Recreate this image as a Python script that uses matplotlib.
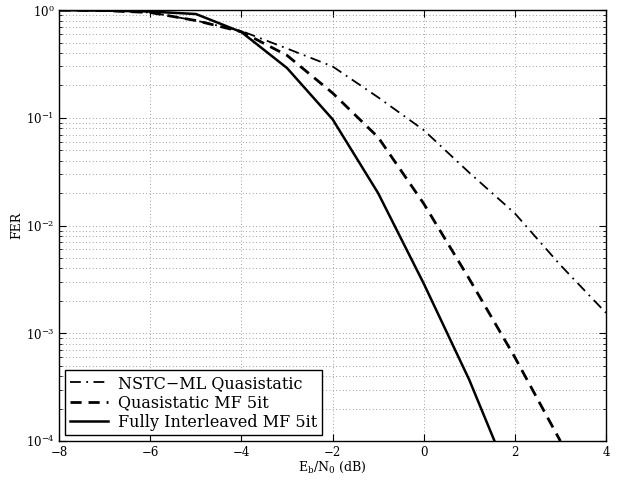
import numpy as np
from matplotlib import pyplot as plt
from matplotlib.ticker import LogLocator, NullFormatter

# Eb/N0 points (dB) and FER for each scheme
snr = [-8, -7, -6, -5, -4, -3, -2, -1, 0, 1, 2, 3, 4]
fer_nstc = [1.0, 0.99, 0.95, 0.80, 0.64, 0.44, 0.30, 0.155, 0.077, 0.031, 0.013, 0.0043, 0.00155]

snr_qs = [-8, -7, -6, -5, -4, -3, -2, -1, 0, 1, 2, 3]
fer_qs = [1.0, 0.99, 0.95, 0.80, 0.63, 0.38, 0.17, 0.066, 0.016, 0.0032, 0.0006, 0.0001]

snr_fi = [-8, -7, -6, -5, -4, -3, -2, -1, 0, 1, 2]
fer_fi = [1.0, 0.99, 0.97, 0.92, 0.625, 0.29, 0.097, 0.02, 0.0029, 0.00037, 0.000035]

plt.rcParams['font.family'] = ['DejaVu Serif']
plt.rcParams['mathtext.fontset'] = 'dejavuserif'

fig = plt.figure(figsize=(6.24, 4.82), dpi=100)
ax = fig.add_axes([0.095, 0.085, 0.876, 0.894])

ax.semilogy(snr, fer_nstc, color='k', lw=1.3, linestyle=(0, (6, 3, 1, 3)),
            label='NSTC\u2212ML Quasistatic')
ax.semilogy(snr_qs, fer_qs, color='k', lw=2.0, linestyle=(0, (4, 2.5)),
            label='Quasistatic MF 5it')
ax.semilogy(snr_fi, fer_fi, color='k', lw=1.8, linestyle='-',
            label='Fully Interleaved MF 5it')

ax.set_xlim(-8, 4)
ax.set_ylim(1e-4, 1)
ax.set_xticks([-8, -6, -4, -2, 0, 2, 4])
ax.yaxis.set_major_locator(LogLocator(base=10, numticks=10))
ax.yaxis.set_minor_locator(LogLocator(base=10, subs=np.arange(2, 10), numticks=10))
ax.yaxis.set_minor_formatter(NullFormatter())

ax.grid(True, which='major', axis='both', linestyle=(0, (1, 3)), color='0.5', lw=0.6)
ax.grid(True, which='minor', axis='y', linestyle=(0, (1, 3)), color='0.5', lw=0.6)

ax.tick_params(which='both', direction='in', top=True, right=True, labelsize=8.5)
ax.tick_params(which='major', length=5)
ax.tick_params(which='minor', length=2.5)
for s in ax.spines.values():
    s.set_linewidth(1.0)

ax.set_xlabel('E$_\\mathrm{b}$/N$_\\mathrm{0}$ (dB)', fontsize=9, labelpad=1)
ax.set_ylabel('FER', fontsize=9, labelpad=2)

leg = ax.legend(loc='lower left', fontsize=11.5, fancybox=False, framealpha=1,
                edgecolor='k', borderaxespad=0.35, handlelength=2.4,
                labelspacing=0.15, borderpad=0.3, handletextpad=0.6)
leg.get_frame().set_linewidth(1.0)

plt.savefig('out.png', dpi=100)
